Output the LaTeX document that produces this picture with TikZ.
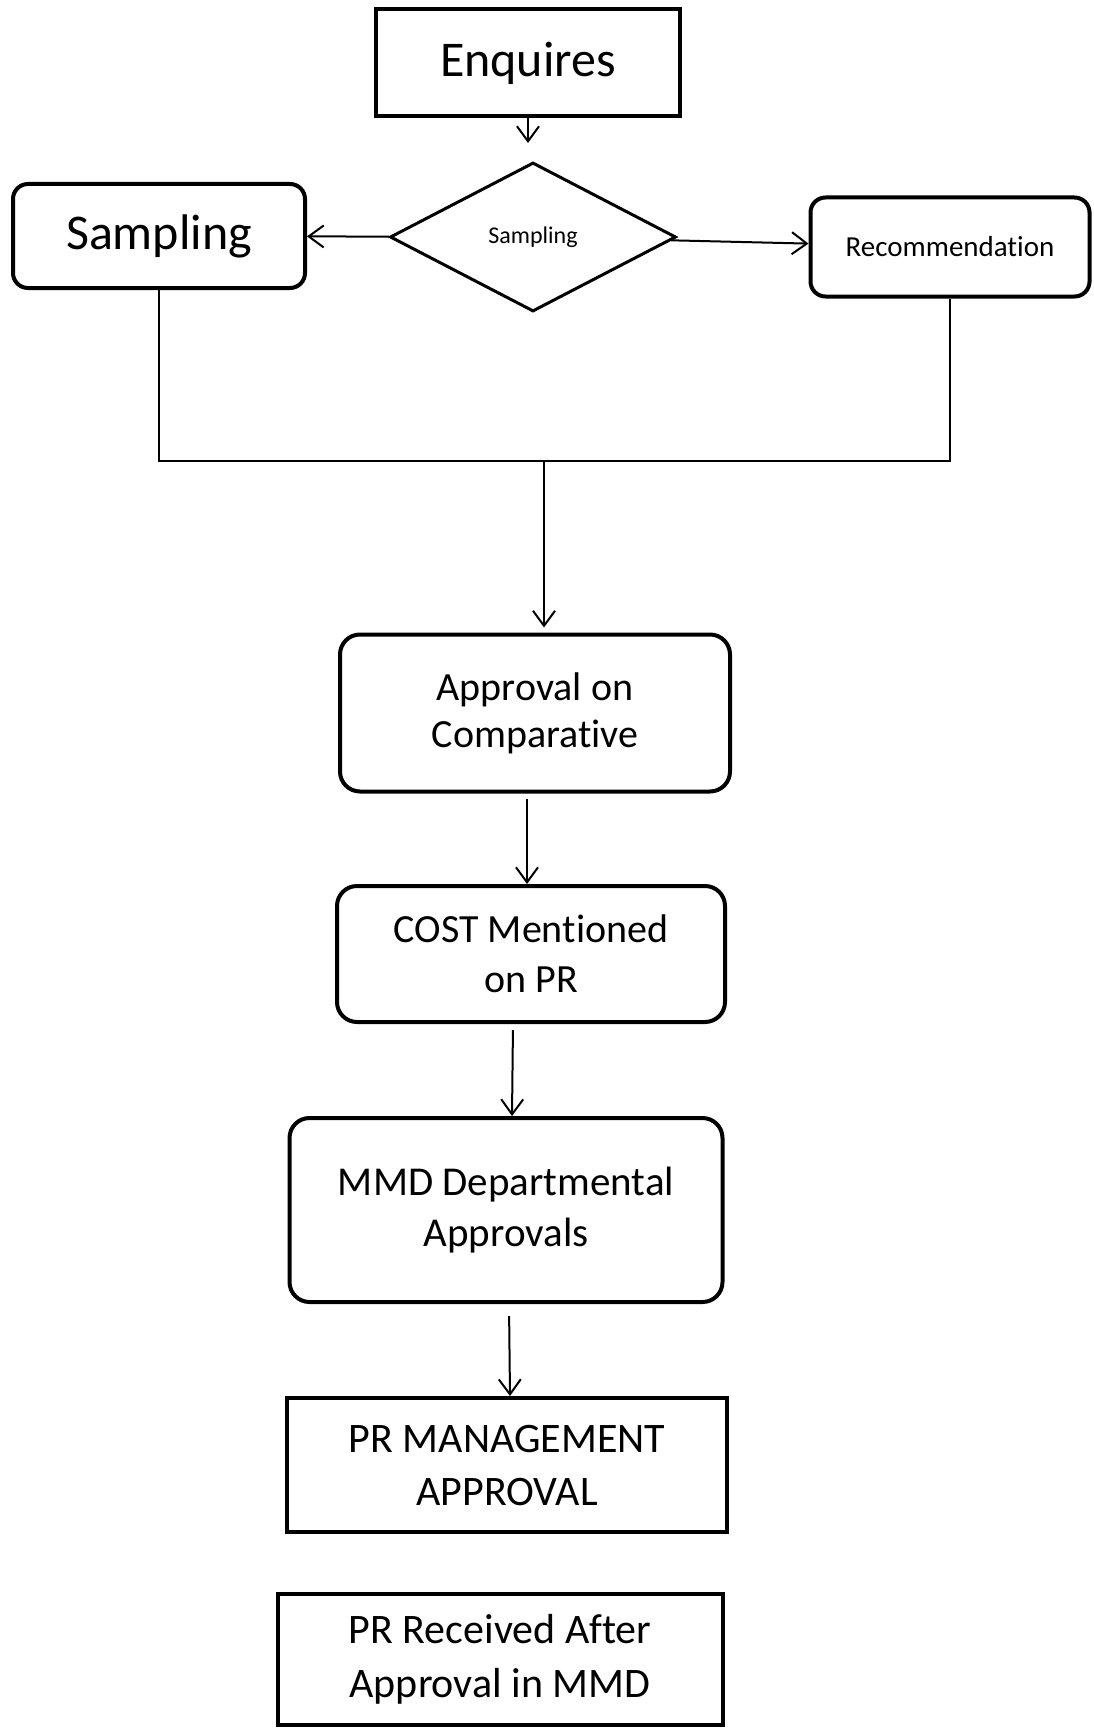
\documentclass[tikz,border=0pt]{standalone}
\usepackage{fontspec}
\setmainfont[Ligatures={NoCommon,NoContextual}]{Carlito}
\usetikzlibrary{arrows.meta,shapes.geometric,positioning}

\tikzset{
    box/.style = {draw, line width=4pt, rectangle, align=center, inner sep=0},
    rbox/.style = {box, rounded corners=20pt},
    choice/.style = {draw, line width=3pt, diamond, inner sep=0, minimum width=286pt, minimum height=149pt},
    link/.style = {line width=2pt, -{Straight Barb[length=15pt, width=22pt, line width=2pt]}}
}

\begin{document}
\begin{tikzpicture}[x=1pt, y=-1pt]
                \useasboundingbox (0,0) rectangle (1093,1728);
                \node[box, minimum width=304pt, minimum height=107pt, font=\fontsize{50}{60}\selectfont]    (s_0) at (528,63)    {Enquires};
                \node[choice, font=\fontsize{24}{30}\selectfont]                                            (s_1) at (533,237)   {Sampling};
                \node[rbox, rounded corners=15pt, minimum width=292pt, minimum height=104pt, font=\fontsize{50}{60}\selectfont] (s_2) at (159,236) {Sampling};
                \node[rbox, rounded corners=15pt, minimum width=279pt, minimum height=99pt, font=\fontsize{29}{35}\selectfont]  (s_3) at (950,247) {Recommendation};
                \node[rbox, minimum width=390pt, minimum height=157pt, font=\fontsize{40}{47}\selectfont]   (s_4) at (535,713)   {Approval on\\Comparative};
                \node[rbox, minimum width=388pt, minimum height=136pt, font=\fontsize{40}{50}\selectfont]   (s_5) at (531,954)   {COST Mentioned\\on PR};
                \node[rbox, minimum width=433pt, minimum height=184pt, font=\fontsize{41}{51}\selectfont]   (s_6) at (506,1210)  {MMD Departmental\\Approvals};
                \node[box, minimum width=440pt, minimum height=134pt, font=\fontsize{42}{53}\selectfont]    (s_7) at (507,1465)  {PR MANAGEMENT\\APPROVAL};
                \node[box, minimum width=445pt, minimum height=131pt, font=\fontsize{42}{54}\selectfont]    (s_8) at (500,1659)  {PR Received After\\Approval in MMD};
                \coordinate (join) at (544,461);

                \draw[link, shorten >=18pt] (s_0.south) -- (s_0.south |- s_1.north);
                \draw
                    (s_1) edge [link] (s_2)
                    (s_1) edge [link] (s_3)
                    ;
                \draw[line width=2pt] (s_2.south) |- (join) -| (s_3.south);
                \draw[link, shorten >=5pt] (join) -- (join |- s_4.north);
                \draw[link, shorten <=5pt] ([xshift=-8pt]s_4.south) -- ([xshift=-4pt]s_5.north);
                \draw[link, shorten <=6pt] ([xshift=-18pt]s_5.south) -- ([xshift=6pt]s_6.north);
                \draw[link, shorten <=12pt] ([xshift=3pt]s_6.south) -- ([xshift=3pt]s_7.north);
            \end{tikzpicture}
\end{document}
